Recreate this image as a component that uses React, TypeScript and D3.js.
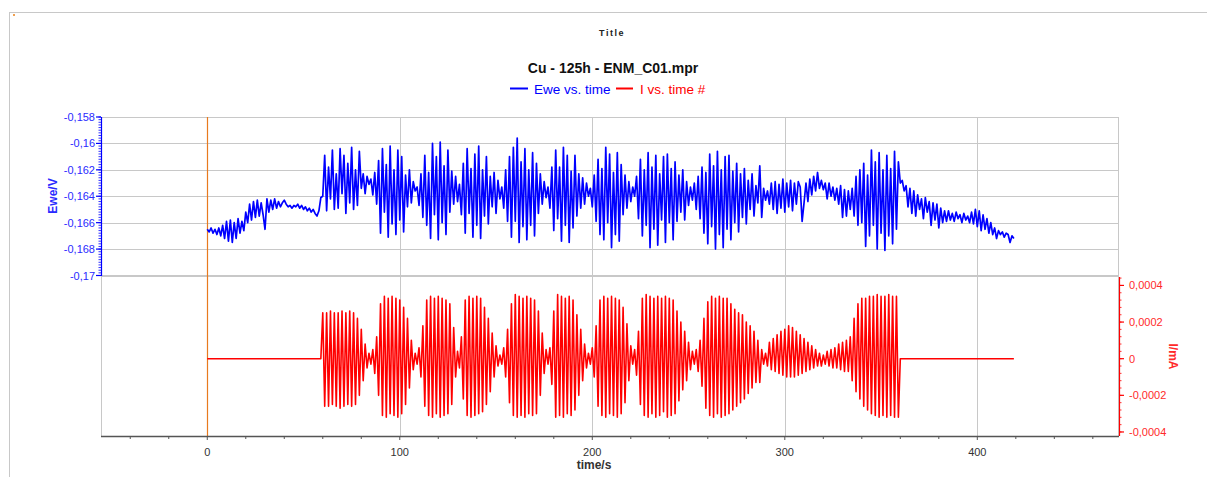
import React from 'react';
import * as d3 from 'd3';

// ---------- data ----------
const EWE_T0 = 0; // s
const EWE_STEP = 1; // s
// Ewe in mV, one value per second from t = 0 s
const EWE_MV = [
  -166.5, -166.7, -166.4, -166.8, -166.5, -166.9, -166.4, -167.0, -166.2, -167.2, -165.9, -167.4, -165.8, -167.5, -166.0, -167.2, -165.7, -166.8, -165.9, -166.6,
  -165.2, -166.0, -164.6, -165.8, -164.4, -165.6, -164.3, -165.5, -164.5, -165.4, -166.5, -164.2, -165.2, -164.3, -165.0, -164.2, -164.9, -164.4, -164.8, -164.5,
  -164.3, -164.6, -164.8, -164.7, -164.9, -164.7, -164.8, -164.6, -164.9, -164.7, -165.0, -164.8, -165.1, -164.9, -165.2, -165.0, -165.3, -165.5, -165.1, -164.1,
  -164.0, -160.9, -165.1, -161.8, -164.2, -160.5, -165.0, -162.3, -164.9, -160.4, -163.8, -160.9, -165.3, -161.5, -164.5, -160.3, -165.0, -162.0, -164.7, -160.6,
  -163.4, -162.3, -163.8, -162.5, -163.1, -162.7, -163.9, -162.2, -164.6, -161.3, -166.8, -160.4, -165.2, -161.6, -167.1, -160.2, -166.1, -162.0, -166.9, -160.5,
  -165.8, -161.0, -166.7, -162.4, -164.8, -162.0, -164.5, -162.9, -163.6, -163.3, -164.7, -162.3, -165.6, -160.9, -166.2, -162.2, -167.2, -160.0, -165.4, -161.0,
  -167.3, -159.9, -166.0, -161.7, -166.9, -160.5, -165.2, -162.1, -164.6, -162.5, -164.4, -163.1, -165.4, -161.5, -166.8, -160.4, -165.3, -161.9, -167.1, -160.8,
  -166.2, -160.2, -167.2, -162.0, -165.5, -161.0, -166.1, -162.5, -164.8, -162.2, -165.3, -162.8, -164.2, -163.3, -164.9, -162.0, -165.9, -161.0, -167.1, -160.3,
  -165.9, -159.6, -167.5, -161.4, -166.3, -160.4, -167.3, -162.0, -166.2, -160.7, -167.0, -161.5, -165.3, -162.3, -164.6, -162.9, -164.1, -163.3, -164.9, -161.8,
  -166.6, -160.5, -165.7, -161.8, -167.4, -160.3, -166.2, -160.9, -167.5, -162.1, -166.4, -160.9, -165.5, -162.3, -164.9, -162.6, -164.6, -163.0, -164.0, -163.4,
  -164.8, -162.4, -165.9, -161.2, -166.9, -161.9, -167.3, -160.3, -166.0, -160.8, -167.9, -162.2, -166.9, -160.7, -167.4, -161.6, -165.4, -162.4, -164.9, -162.9,
  -164.4, -163.3, -164.0, -162.5, -165.7, -161.2, -167.0, -162.0, -166.2, -160.7, -167.9, -161.8, -166.5, -160.9, -167.7, -162.3, -165.8, -161.0, -167.5, -160.8,
  -166.0, -161.9, -167.3, -161.4, -165.9, -162.4, -165.2, -162.0, -165.8, -162.9, -164.7, -163.3, -164.3, -163.0, -165.0, -162.5, -165.7, -161.8, -166.8, -162.2,
  -167.6, -160.8, -166.3, -161.7, -168.0, -160.6, -166.9, -162.0, -167.9, -161.0, -166.5, -160.9, -167.3, -162.1, -166.0, -161.5, -166.7, -162.3, -165.6, -161.9,
  -166.1, -162.8, -165.0, -162.3, -165.5, -163.2, -164.5, -161.7, -165.6, -163.4, -164.3, -163.6, -164.6, -163.0, -165.0, -162.9, -165.3, -163.1, -164.9, -162.7,
  -165.2, -163.0, -164.8, -162.8, -165.1, -163.0, -164.6, -162.9, -163.3, -165.9, -164.5, -163.0, -164.4, -162.7, -163.9, -162.5, -163.6, -162.2, -163.4, -162.8,
  -163.5, -163.0, -164.2, -163.0, -164.0, -163.3, -164.3, -163.4, -164.6, -163.2, -165.6, -163.5, -165.5, -163.6, -165.0, -163.4, -165.5, -162.5, -166.2, -162.0,
  -166.0, -161.5, -167.8, -162.4, -167.0, -160.5, -166.2, -161.4, -168.0, -160.7, -166.8, -162.0, -168.1, -160.9, -167.0, -161.9, -167.6, -160.6, -166.5, -161.4,
  -163.0, -162.8, -163.6, -163.2, -164.8, -163.4, -165.3, -163.6, -165.5, -163.9, -165.0, -164.2, -165.7, -164.1, -165.2, -164.4, -166.2, -164.5, -165.8, -164.6,
  -166.4, -164.9, -166.0, -165.1, -165.9, -165.1, -165.8, -165.3, -165.9, -165.2, -165.7, -165.4, -166.0, -165.3, -165.8, -165.5, -166.0, -165.2, -166.1, -165.0,
  -166.3, -165.1, -166.6, -165.4, -166.5, -165.7, -166.8, -166.0, -166.9, -166.4, -167.2, -166.6, -166.9, -166.7, -167.1, -166.8, -166.9, -167.5, -167.0, -167.2,
];

const I_T0 = 60; // s
const I_STEP = 1; // s
// current in µA, one value per second from t = 60 s
const I_UA = [
  0.25, -0.26, 0.25, -0.26, 0.26, -0.25, 0.25, -0.26, 0.25, -0.27, 0.26, -0.26, 0.25, -0.25, 0.26, -0.26, 0.25, -0.25,
  0.22, -0.2, 0.16, -0.12, 0.08, -0.05, 0.03, -0.03, 0.05, -0.08, 0.12, -0.2, 0.3, -0.31,
  0.34, -0.32, 0.33, -0.3, 0.34, -0.31, 0.33, -0.32, 0.32,
  -0.3, 0.28, -0.25, 0.22, -0.16, 0.1, -0.06, 0.03, -0.03, 0.06, -0.1, 0.18, -0.26, 0.32,
  -0.31, 0.34, -0.32, 0.33, -0.3, 0.34, -0.32, 0.33, -0.31, 0.32, -0.3,
  0.3, -0.25, 0.17, -0.1, 0.04, -0.05, 0.12, -0.22, 0.32,
  -0.31, 0.34, -0.32, 0.33, -0.31, 0.34, -0.3, 0.33, -0.29,
  0.28, -0.25, 0.22, -0.18, 0.14, -0.1, 0.07, -0.04, 0.02, -0.03, 0.06, -0.1, 0.16, -0.24, 0.3,
  -0.31, 0.35, -0.32, 0.34, -0.31, 0.33, -0.32, 0.34, -0.3, 0.33, -0.31, 0.32,
  -0.3, 0.26, -0.2, 0.14, -0.08, 0.05, -0.03, 0.06, -0.14, 0.26, -0.32,
  0.35, -0.31, 0.34, -0.32, 0.33, -0.3, 0.34, -0.31, 0.32,
  -0.28, 0.24, -0.2, 0.16, -0.12, 0.08, -0.05, 0.03, -0.03, 0.06, -0.1, 0.18, -0.26, 0.32,
  -0.31, 0.34, -0.32, 0.33, -0.3, 0.34, -0.31, 0.33, -0.32, 0.32, -0.3,
  0.28, -0.24, 0.19, -0.12, 0.07, -0.03, 0.05, -0.09, 0.15, -0.25, 0.33,
  -0.31, 0.35, -0.32, 0.34, -0.3, 0.33, -0.32, 0.34, -0.31, 0.33, -0.29, 0.34, -0.32, 0.33, -0.31, 0.32,
  -0.3, 0.26, -0.23, 0.2, -0.17, 0.15, -0.12, 0.09, -0.06, 0.04, -0.03, 0.05, -0.07, 0.1, -0.15, 0.22, -0.27, 0.31,
  -0.31, 0.34, -0.32, 0.33, -0.3, 0.34, -0.32, 0.33, -0.31, 0.33, -0.3,
  0.3, -0.28, 0.27, -0.26, 0.25, -0.24, 0.24, -0.22, 0.2, -0.19, 0.18, -0.16, 0.15, -0.13, 0.1, -0.13, 0.05, -0.03,
  0.03, -0.04, 0.09, -0.06, 0.11, -0.07, 0.13, -0.08, 0.15, -0.09, 0.16, -0.1, 0.18, -0.1, 0.17, -0.1, 0.15, -0.09, 0.13, -0.08,
  0.11, -0.07, 0.09, -0.06, 0.07, -0.05, 0.05, -0.04, 0.03, -0.04,
  0.02, -0.03, 0.04, -0.04, 0.05, -0.05, 0.06, -0.05, 0.08, -0.06, 0.09, -0.07, 0.1, -0.07, 0.12, -0.12,
  0.22, -0.18, 0.3, -0.22, 0.33, -0.26, 0.33, -0.28, 0.34, -0.3,
  0.34, -0.31, 0.35, -0.32, 0.34, -0.31, 0.34, -0.32, 0.35, -0.31, 0.34, -0.32, 0.34, -0.32,
];
// time spans (s) where the current is held at 0
const I_REST_SPANS = [[0, 59], [360, 419]];

const X_TICKS = [0, 100, 200, 300, 400];
const X_TICK_LABELS = ['0', '100', '200', '300', '400'];
const EWE_TICKS = [-0.158, -0.16, -0.162, -0.164, -0.166, -0.168, -0.17];
const EWE_TICK_LABELS = ['-0,158', '-0,16', '-0,162', '-0,164', '-0,166', '-0,168', '-0,17'];
const I_TICKS = [0.0004, 0.0002, 0, -0.0002, -0.0004];
const I_TICK_LABELS = ['0,0004', '0,0002', '0', '-0,0002', '-0,0004'];

const TITLE = 'Title';
const SUBTITLE = 'Cu - 125h - ENM_C01.mpr';
const LEGEND = ['Ewe vs. time', 'I vs. time #'];

const FONT = '"Liberation Sans", Arial, Helvetica, sans-serif';
const BLUE = '#0000ff';
const RED = '#ff0000';
const GRID = '#c8c8c8';

export default function App() {
  const W = 1207, H = 477;
  const L = 101, R = 1119, T = 117, MID = 275, B = 436;

  const x = d3.scaleLinear().domain([-55.2, 473.6]).range([L, R]);
  const yE = d3.scaleLinear().domain([-0.17, -0.158]).range([275.5, T]);
  const yI = d3.scaleLinear().domain([-0.000422, 0.000446]).range([B, 277]);

  const eweData: [number, number][] = EWE_MV.map((v, i) => [EWE_T0 + i * EWE_STEP, v / 1000]);
  const iData: [number, number][] = [
    [I_REST_SPANS[0][0], 0],
    [I_REST_SPANS[0][1], 0],
    ...I_UA.map((v, i) => [I_T0 + i * I_STEP, v / 1000] as [number, number]),
    [I_REST_SPANS[1][0], 0],
    [I_REST_SPANS[1][1], 0],
  ];

  const lineE = d3.line<[number, number]>().x(d => x(d[0])).y(d => yE(d[1]));
  const lineI = d3.line<[number, number]>().x(d => x(d[0])).y(d => yI(d[1]));

  const xMinor: number[] = [];
  for (let t = -40; t <= 460; t += 20) if (t % 100 !== 0) xMinor.push(t);
  const eMinor: number[] = [];
  for (let i = 0; i <= 60; i++) eMinor.push(-0.17 + i * 0.0002);
  const iMinor: number[] = [];
  for (let i = 0; i <= 21; i++) iMinor.push(-0.0004 + i * 0.00004);

  const x0 = Math.round(x(0)) + 0.5;

  return (
    <svg width={W} height={H} style={{ position: 'absolute', left: 0, top: 0, background: '#fff' }}
      fontFamily={FONT}>
      <defs>
        <clipPath id="plotclip">
          <rect x={L} y={T} width={R - L} height={B - T} />
        </clipPath>
      </defs>
      {/* outer frame */}
      <rect x={9.5} y={12.5} width={1210} height={500} fill="none" stroke={GRID} strokeWidth={1} />
      <rect x={13} y={14} width={2} height={2} fill="#f0a050" />

      {/* titles */}
      <text x={612} y={36} textAnchor="middle" fontSize={9} fontWeight="bold" letterSpacing={1.5} fill="#222">{TITLE}</text>
      <text x={613} y={73} textAnchor="middle" fontSize={14} fontWeight="bold" fill="#111">{SUBTITLE}</text>

      {/* legend */}
      <line x1={510} x2={528} y1={88.5} y2={88.5} stroke={BLUE} strokeWidth={2} />
      <text x={534} y={93.5} fontSize={13.5} fill={BLUE}>{LEGEND[0]}</text>
      <line x1={616} x2={633} y1={88.5} y2={88.5} stroke={RED} strokeWidth={2} />
      <text x={640} y={93.5} fontSize={13.5} fill={RED}>{LEGEND[1]}</text>

      {/* plot frame and grid */}
      <rect x={L + 0.5} y={T + 0.5} width={R - L - 1} height={B - T} fill="none" stroke={GRID} />
      {EWE_TICKS.map((v, i) => (
        <line key={'hg' + i} x1={L} x2={R} y1={Math.round(yE(v)) + 0.5} y2={Math.round(yE(v)) + 0.5} stroke={GRID} />
      ))}
      <line x1={L} x2={R} y1={MID + 0.5} y2={MID + 0.5} stroke={GRID} />
      {X_TICKS.filter(t => t !== 0).map(t => (
        <line key={'vg' + t} x1={Math.round(x(t)) + 0.5} x2={Math.round(x(t)) + 0.5} y1={T} y2={B} stroke={GRID} />
      ))}
      <line x1={x0} x2={x0} y1={T} y2={B} stroke="#e87a1e" strokeWidth={1.2} />

      {/* series */}
      <g clipPath="url(#plotclip)">
        <path d={lineI(iData) || ''} fill="none" stroke={RED} strokeWidth={1.6} strokeLinejoin="round" />
        <path d={lineE(eweData) || ''} fill="none" stroke={BLUE} strokeWidth={1.7} strokeLinejoin="round" />
      </g>

      {/* left axis (Ewe) */}
      <line x1={L + 0.5} x2={L + 0.5} y1={T} y2={MID + 1} stroke={BLUE} strokeWidth={1.2} />
      {eMinor.map((v, i) => (
        <line key={'em' + i} x1={L - 2.5} x2={L} y1={yE(v)} y2={yE(v)} stroke={BLUE} strokeWidth={0.8} />
      ))}
      {EWE_TICKS.map((v, i) => (
        <g key={'et' + i}>
          <line x1={L - 5} x2={L} y1={yE(v)} y2={yE(v)} stroke={BLUE} strokeWidth={1.2} />
          <text x={95} y={yE(v) + 4} textAnchor="end" fontSize={11} fill="#2a2aff">{EWE_TICK_LABELS[i]}</text>
        </g>
      ))}
      <text transform={`translate(57, ${(T + MID) / 2}) rotate(-90)`} textAnchor="middle" fontSize={12}
        fontWeight="bold" fill="#2a2aff">Ewe/V</text>

      {/* right axis (I) */}
      <line x1={R + 0.5} x2={R + 0.5} y1={277} y2={B} stroke={RED} strokeWidth={1.2} />
      {iMinor.map((v, i) => (
        <line key={'im' + i} x1={R} x2={R + 2.5} y1={yI(v)} y2={yI(v)} stroke={RED} strokeWidth={0.8} />
      ))}
      {I_TICKS.map((v, i) => (
        <g key={'it' + i}>
          <line x1={R} x2={R + 5} y1={yI(v)} y2={yI(v)} stroke={RED} strokeWidth={1.2} />
          <text x={1129} y={yI(v) + 4} fontSize={11} fill="#ff2a2a">{I_TICK_LABELS[i]}</text>
        </g>
      ))}
      <text transform={`translate(1169, ${(277 + B) / 2}) rotate(90)`} textAnchor="middle" fontSize={12}
        fontWeight="bold" fill="#ff2a2a">I/mA</text>

      {/* bottom axis (time) */}
      <line x1={L} x2={R} y1={B + 0.5} y2={B + 0.5} stroke="#555" strokeWidth={1.3} />
      {xMinor.map(t => (
        <line key={'xm' + t} x1={x(t)} x2={x(t)} y1={B} y2={B + 3} stroke="#555" strokeWidth={1} />
      ))}
      {X_TICKS.map((t, i) => (
        <g key={'xt' + t}>
          <line x1={x(t)} x2={x(t)} y1={B} y2={B + 4} stroke="#555" strokeWidth={1} />
          <text x={x(t)} y={456} textAnchor="middle" fontSize={11} fill="#333">{X_TICK_LABELS[i]}</text>
        </g>
      ))}
      <text x={594} y={469} textAnchor="middle" fontSize={12} fontWeight="bold" fill="#333">time/s</text>
    </svg>
  );
}
